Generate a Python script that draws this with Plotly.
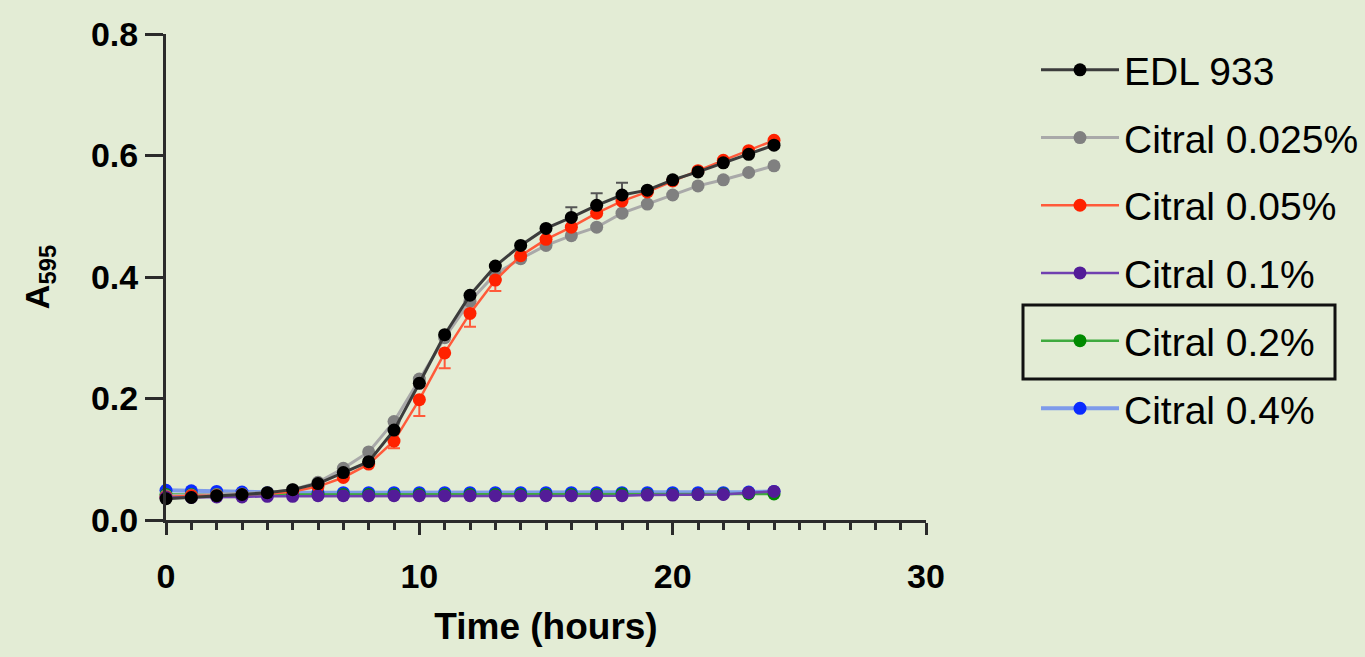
import plotly.graph_objects as go

hours = list(range(25))

edl933 = [0.035, 0.037, 0.040, 0.042, 0.045, 0.050, 0.060, 0.078, 0.096, 0.148, 0.225, 0.305, 0.370,
          0.418, 0.452, 0.480, 0.498, 0.518, 0.535, 0.543, 0.560, 0.573, 0.588, 0.602, 0.617]
edl933_err_up = [0, 0, 0, 0, 0, 0, 0, 0, 0, 0, 0, 0, 0, 0, 0, 0, 0.017, 0.020, 0.020, 0, 0, 0, 0, 0, 0]

citral_0025 = [0.040, 0.041, 0.042, 0.043, 0.045, 0.050, 0.062, 0.085, 0.112, 0.162, 0.232, 0.300, 0.360,
               0.405, 0.430, 0.452, 0.468, 0.482, 0.505, 0.520, 0.535, 0.550, 0.560, 0.572, 0.583]

citral_005 = [0.038, 0.040, 0.040, 0.041, 0.043, 0.047, 0.055, 0.070, 0.092, 0.130, 0.198, 0.275, 0.340,
              0.395, 0.435, 0.462, 0.482, 0.505, 0.525, 0.540, 0.558, 0.575, 0.592, 0.608, 0.625]
citral_005_err_down = [0, 0, 0, 0, 0, 0, 0, 0, 0, 0.012, 0.027, 0.025, 0.022, 0.018, 0, 0, 0, 0, 0, 0,
                       0, 0, 0, 0, 0]

citral_01 = [0.037, 0.037, 0.038, 0.038, 0.039, 0.039, 0.040, 0.040, 0.040, 0.040, 0.040, 0.040, 0.040,
             0.040, 0.040, 0.040, 0.040, 0.040, 0.040, 0.041, 0.041, 0.042, 0.042, 0.045, 0.047]

citral_02 = [0.042, 0.042, 0.042, 0.042, 0.042, 0.042, 0.042, 0.042, 0.042, 0.042, 0.042, 0.042, 0.042,
             0.042, 0.042, 0.042, 0.042, 0.042, 0.043, 0.042, 0.042, 0.042, 0.043, 0.043, 0.043]

citral_04 = [0.049, 0.048, 0.047, 0.046, 0.045, 0.045, 0.045, 0.045, 0.045, 0.045, 0.045, 0.045, 0.045,
             0.045, 0.045, 0.045, 0.045, 0.045, 0.045, 0.045, 0.045, 0.045, 0.045, 0.046, 0.047]

series_names = ["EDL 933", "Citral 0.025%", "Citral 0.05%", "Citral 0.1%", "Citral 0.2%", "Citral 0.4%"]

BG = "#E3ECD5"
AXC = "#2b2b2b"

fig = go.Figure()

def add(name, y, rank, mcolor, lcolor, lw, err=None):
    kw = {}
    if err is not None:
        kw["error_y"] = err
    fig.add_trace(go.Scatter(
        x=hours, y=y, name=name, mode="lines+markers",
        marker=dict(color=mcolor, size=13),
        line=dict(color=lcolor, width=lw),
        legendgroup=name, legendrank=rank, cliponaxis=False, **kw))

# drawing order (back to front)
add(series_names[5], citral_04, 6, "#0A2BFF", "#7E9BEA", 4)
add(series_names[4], citral_02, 5, "#008A00", "#3FAA3F", 2.5)
add(series_names[1], citral_0025, 2, "#808080", "#A9A9A9", 3)
add(series_names[2], citral_005, 3, "#FF2200", "#FF5A3A", 2.5,
    dict(type="data", symmetric=False, array=[0]*25, arrayminus=citral_005_err_down,
         color="#FF5A3A", thickness=2, width=6))
add(series_names[3], citral_01, 4, "#531C98", "#7040B0", 2.5)
add(series_names[0], edl933, 1, "#000000", "#3C3C3C", 3,
    dict(type="data", symmetric=False, array=edl933_err_up, arrayminus=[0]*25,
         color="#555555", thickness=2, width=6))

tickfont = dict(family="Liberation Sans, Arial, sans-serif", size=34, color="#000000", weight="bold")

fig.update_xaxes(
    range=[0, 30], tickvals=[0, 10, 20, 30], ticktext=["0", "10", "20", "30"],
    showline=True, linecolor=AXC, linewidth=3, ticks="outside", ticklen=12, tickwidth=3,
    tickcolor=AXC, showgrid=False, zeroline=False, tickfont=tickfont, ticklabelstandoff=12,
    minor=dict(dtick=1, ticks="outside", ticklen=7, tickwidth=2.5, tickcolor=AXC, showgrid=False),
    title=dict(text="Time (hours)", font=dict(family="Liberation Sans, Arial, sans-serif", size=37,
                                              color="#000000", weight="bold"), standoff=20),
)
fig.update_yaxes(
    range=[0, 0.8], tickvals=[0, 0.2, 0.4, 0.6, 0.8], tickformat=".1f",
    showline=True, linecolor=AXC, linewidth=3, ticks="outside", ticklen=18, tickwidth=3,
    tickcolor=AXC, showgrid=False, zeroline=False, tickfont=tickfont,
    title=dict(text="A<sub>595</sub>", font=dict(family="Liberation Sans, Arial, sans-serif", size=34,
                                                 color="#000000", weight="bold"), standoff=32),
)

fig.add_shape(type="rect", xref="paper", yref="paper",
              x0=(1023 - 166) / 760, x1=(1335 - 166) / 760,
              y0=(520 - 379) / 486, y1=(520 - 305) / 486,
              line=dict(color="#111111", width=3), fillcolor="rgba(0,0,0,0)")

fig.update_layout(
    width=1365, height=657,
    paper_bgcolor=BG, plot_bgcolor=BG,
    margin=dict(l=166, r=439, t=34, b=137, autoexpand=False),
    showlegend=True,
    legend=dict(x=(1036 - 166) / 760, y=(520 - 38) / 486, xanchor="left", yanchor="top",
                traceorder="grouped", tracegroupgap=14, itemwidth=78,
                bgcolor="rgba(0,0,0,0)",
                font=dict(family="Liberation Sans, Arial, sans-serif", size=39, color="#000000")),
)

fig.write_html("out.html")
